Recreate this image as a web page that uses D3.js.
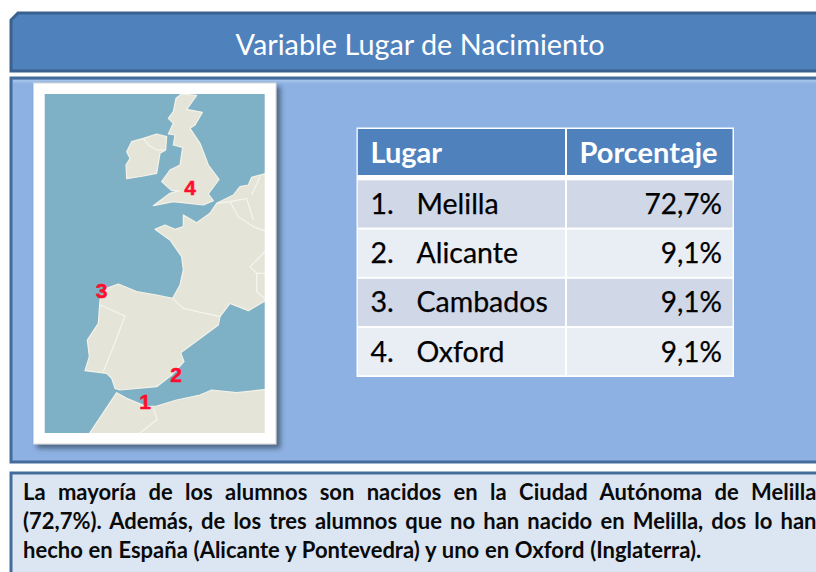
<!DOCTYPE html>
<html><head><meta charset="utf-8">
<script src="https://cdn.jsdelivr.net/npm/d3@7"></script>
<style>html,body{margin:0;padding:0;background:#fff;overflow:hidden}svg{display:block}</style>
</head><body><svg id="c" width="816" height="572"></svg>
<script>
const titleText = "Variable Lugar de Nacimiento";
const headers = ["Lugar", "Porcentaje"];
const ranks = ["1.", "2.", "3.", "4."];
const places = ["Melilla", "Alicante", "Cambados", "Oxford"];
const percents = [72.7, 9.1, 9.1, 9.1];
const bodyLines = [
  "La mayoría de los alumnos son nacidos en la Ciudad Autónoma de Melilla",
  "(72,7%). Además, de los tres alumnos que no han nacido en Melilla, dos lo han",
  "hecho en España (Alicante y Pontevedra) y uno en Oxford (Inglaterra)."
];
// Map outlines, in map units
const britain = [[545,72],[590,76],[560,118],[607,127],[585,165],[570,175],[600,220],[625,285],[657,328],[625,372],[640,392],[610,405],[520,395],[460,407],[510,370],[540,362],[515,362],[485,335],[510,300],[540,285],[548,232],[520,225],[525,195],[505,192],[520,160],[505,145],[520,125],[528,85]];
const ireland = [[430,205],[470,192],[500,200],[497,240],[480,250],[470,310],[430,318],[380,326],[378,285],[390,265],[380,245],[395,215]];
const continent = [[800,310],[755,322],[745,345],[720,350],[700,375],[650,400],[630,430],[590,458],[550,435],[550,470],[525,478],[495,465],[465,478],[510,510],[545,560],[550,600],[540,645],[518,685],[470,675],[410,665],[355,642],[320,655],[300,690],[295,760],[262,810],[268,860],[255,902],[320,910],[335,925],[345,955],[360,960],[470,950],[515,915],[552,875],[542,848],[655,765],[660,740],[690,700],[745,722],[800,690]];
const africa = [[265,1095],[350,968],[380,985],[440,1010],[470,1008],[530,990],[600,975],[635,960],[710,968],[800,958],[800,1095]];
const borders = [
  [[300,705],[375,738],[340,830],[310,905]],
  [[518,685],[550,715],[660,740]],
  [[460,1015],[472,1048],[420,1089]],
  [[430,205],[445,225],[470,240],[497,240]],
  [[650,400],[690,395],[715,440],[760,470],[800,485]],
  [[690,395],[740,385],[760,450]],
  [[755,375],[780,320]],
  [[800,540],[750,590],[770,610],[770,665],[800,690]],
  [[770,610],[800,610]]
];
const mapLabels = [["1",435,995],["2",528,912],["3",305,662],["4",570,352]];
const bodyWordSpacing = [7, 2.8, 0.4];

const svg = d3.select("#c");
const defs = svg.append("defs");
const sh = defs.append("filter").attr("id","sh").attr("x","-10%").attr("y","-10%").attr("width","125%").attr("height","125%");
sh.append("feDropShadow").attr("dx",4).attr("dy",4).attr("stdDeviation",2.5).attr("flood-color","#33455f").attr("flood-opacity",0.7);
defs.append("filter").attr("id","soft").append("feGaussianBlur").attr("stdDeviation",0.45);
defs.append("clipPath").attr("id","mc").append("rect").attr("x",44.7).attr("y",94).attr("width",220).attr("height",339);
const g1 = defs.append("linearGradient").attr("id","mainTop").attr("x1",0).attr("x2",0).attr("y1",0).attr("y2",1);
g1.append("stop").attr("offset",0).attr("stop-color","#a9c6ec");
g1.append("stop").attr("offset",1).attr("stop-color","#8db1e2");

const panel = (x,y,w,h,fill,stroke,cut) => svg.append("path")
  .attr("d",`M${x+cut},${y}H${x+w}V${y+h}H${x}V${y+cut}Z`)
  .attr("fill",fill).attr("stroke",stroke).attr("stroke-width",3);

panel(11,13,815,58,"#4f81bd","#3b628f",7);
panel(11,78,815,384,"#8db1e2","#446c9b",0);
svg.append("rect").attr("x",13).attr("y",80).attr("width",803).attr("height",4).attr("fill","url(#mainTop)");
panel(11,473,815,110,"#dce6f2","#446c9b",0);

const FONT = "Lato, Carlito, sans-serif";
svg.append("text").attr("x",420).attr("y",55).attr("text-anchor","middle")
  .attr("font-family",FONT).attr("font-size",28.8).attr("fill","#fff").text(titleText);

// Map
svg.append("rect").attr("x",33.5).attr("y",83).attr("width",242.5).attr("height",361)
  .attr("fill","#fff").attr("stroke","#d5d5d5").attr("stroke-width",1).attr("filter","url(#sh)");
const mx = d3.scaleLinear().domain([0,900]).range([0,300]);
const my = d3.scaleLinear().domain([0,900]).range([70,370]);
const line = d3.line().x(d=>mx(d[0])).y(d=>my(d[1]));
const closed = d3.line().x(d=>mx(d[0])).y(d=>my(d[1])).curve(d3.curveLinearClosed);
const m = svg.append("g").attr("clip-path","url(#mc)");
const mi = m.append("g").attr("filter","url(#soft)");
mi.append("rect").attr("x",40).attr("y",90).attr("width",230).attr("height",350).attr("fill","#7fb1c6");
mi.selectAll("path.land").data([britain,ireland,continent,africa]).join("path").attr("class","land")
  .attr("d",closed).attr("fill","#e5e4d8").attr("stroke","#f4f2e8").attr("stroke-width",1.2).attr("stroke-linejoin","round");
mi.selectAll("path.bd").data(borders).join("path").attr("class","bd")
  .attr("d",line).attr("fill","none").attr("stroke","#f6f5ee").attr("stroke-width",1.2);
svg.selectAll("text.ml").data(mapLabels).join("text").attr("class","ml")
  .attr("x",d=>mx(d[1])).attr("y",d=>my(d[2])).attr("dy","0.36em").attr("text-anchor","middle")
  .attr("font-family","Liberation Sans, Arial, sans-serif").attr("font-weight",700).attr("font-size",21)
  .attr("fill","#ff0d2e").attr("stroke","#ff0d2e").attr("stroke-width",0.5).text(d=>d[0]);

// Table
svg.append("rect").attr("x",356.5).attr("y",127.5).attr("width",377.5).attr("height",249.5).attr("fill","#fff");
const col1 = [357.8,565], col2 = [567,732.5];
svg.selectAll("rect.hd").data([col1,col2]).join("rect").attr("class","hd")
  .attr("x",d=>d[0]).attr("y",129).attr("width",d=>d[1]-d[0]).attr("height",46).attr("fill","#4f81bd");
svg.selectAll("text.hd").data(headers).join("text").attr("class","hd")
  .attr("x",(d,i)=>i?579.5:370.5).attr("y",163).attr("font-family",FONT).attr("font-weight",700)
  .attr("font-size",29).attr("fill","#fff").text(d=>d);
const ry = d3.scaleBand().domain(places).range([180.3,375.3]).paddingInner(0.04);
const rows = svg.selectAll("g.r").data(places).join("g").attr("class","r").attr("transform",d=>`translate(0,${ry(d)})`);
[col1,col2].forEach(c=>rows.append("rect").attr("x",c[0]).attr("width",c[1]-c[0]).attr("height",ry.bandwidth())
  .attr("fill",(d,i)=>i%2?"#e9edf4":"#d0d8e8"));
const bl = ry.bandwidth()/2+10;
const txt = (fn,x,anchor,size)=>rows.append("text").attr("x",x).attr("y",bl).attr("text-anchor",anchor)
  .attr("font-family",FONT).attr("font-size",size).attr("fill","#000").attr("stroke","#000").attr("stroke-width",0.25).text(fn);
txt((d,i)=>ranks[i],370.5,"start",28.5);
txt(d=>d,416.5,"start",28.5);
txt((d,i)=>d3.format(".1f")(percents[i]).replace(".",",")+"%",722,"end",28);

// Bottom text
svg.selectAll("text.b").data(bodyLines).join("text").attr("class","b")
  .attr("x",23).attr("y",(d,i)=>500+i*29)
  .attr("font-family",FONT).attr("font-weight",700).attr("font-size",22).attr("fill","#0a0a0a")
  .attr("word-spacing",(d,i)=>bodyWordSpacing[i]).text(d=>d);
</script></body></html>
